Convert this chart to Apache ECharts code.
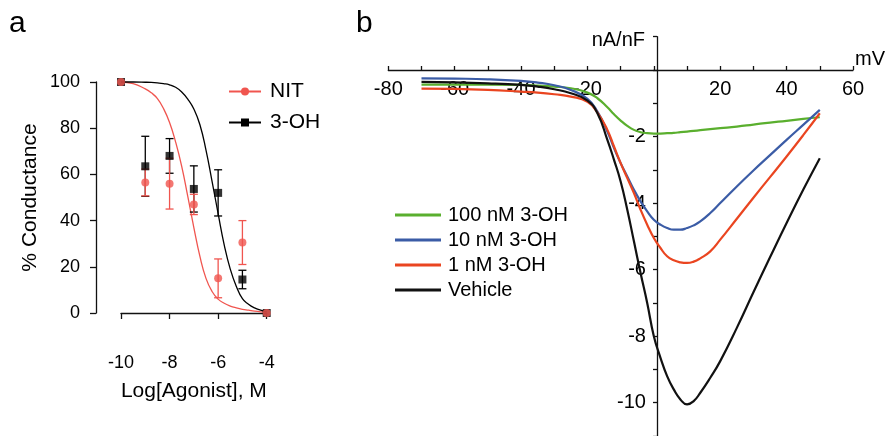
<!DOCTYPE html>
<html><head><meta charset="utf-8">
<script src="https://cdn.jsdelivr.net/npm/echarts@6/dist/echarts.min.js"></script>
<style>html,body{margin:0;padding:0;background:#fff}#c{width:888px;height:436px}</style>
</head><body><div id="c"></div>
<script>
const FONT = '"Liberation Sans", Arial, Helvetica, sans-serif';

// ---- Panel a: dose response ----
const doseLog = [-10, -9, -8, -7, -6, -5, -4];
const nitMean = [100, 56.5, 56, 47, 15, 30.5, 0];
const nitSem  = [0, 5.8, 11, 4.4, 8.4, 9.5, 0];
const ohMean  = [100, 63.5, 68, 53.7, 52, 14.5, 0];
const ohSem   = [0, 13, 7.5, 10, 10, 4, 0];

const fitX   = [-10, -9.5, -9, -8.75, -8.5, -8.25, -8, -7.75, -7.5, -7.25, -7, -6.75, -6.5, -6.25, -6, -5.75, -5.5, -5.25, -5, -4.75, -4.5, -4.25, -4];
const nitFit = [100, 99.3, 97, 95.3, 92.8, 88.5, 82.5, 74, 63.5, 50.5, 37, 24.5, 15, 9.3, 6, 4.2, 3.0, 2.2, 1.6, 1.2, 0.8, 0.5, 0.3];
const ohFit  = [100, 100, 99.9, 99.8, 99.6, 99.3, 98.8, 97.7, 95.7, 92.6, 88.3, 81.5, 70.5, 57, 43, 29.5, 19, 11.5, 6.2, 3.8, 2.2, 1.2, 0.5];

// ---- Panel b: current-voltage ----
const voltage = [-70, -60, -50, -40, -35, -30, -25, -20, -17, -14, -12, -10, -8, -6, -4, -2, 0, 2, 4, 6, 8, 10, 12, 14, 17, 20, 25, 30, 35, 40, 45, 50];
const oh100nM = [-0.44, -0.44, -0.44, -0.45, -0.47, -0.5, -0.55, -0.68, -0.85, -1.12, -1.33, -1.52, -1.68, -1.8, -1.87, -1.9, -1.91, -1.91, -1.9, -1.89, -1.87, -1.85, -1.83, -1.81, -1.78, -1.75, -1.7, -1.64, -1.58, -1.53, -1.47, -1.42];
const oh10nM  = [-0.25, -0.26, -0.28, -0.33, -0.38, -0.46, -0.6, -0.87, -1.25, -1.85, -2.35, -2.8, -3.2, -3.6, -3.95, -4.25, -4.5, -4.65, -4.75, -4.8, -4.8, -4.75, -4.67, -4.55, -4.3, -4.0, -3.5, -3.02, -2.56, -2.1, -1.65, -1.2];
const oh1nM   = [-0.56, -0.57, -0.6, -0.65, -0.68, -0.73, -0.8, -0.96, -1.28, -1.8, -2.3, -2.8, -3.25, -3.7, -4.2, -4.65, -5.05, -5.35, -5.6, -5.72, -5.78, -5.8, -5.76, -5.66, -5.45, -5.1, -4.47, -3.84, -3.22, -2.6, -1.96, -1.3];
const vehicle = [-0.36, -0.37, -0.4, -0.45, -0.5, -0.58, -0.7, -0.92, -1.3, -2.1, -2.7, -3.35, -4.2, -5.15, -6.1, -7.0, -8.0, -8.65, -9.2, -9.6, -9.9, -10.05, -9.95, -9.7, -9.25, -8.75, -7.75, -6.68, -5.63, -4.6, -3.6, -2.65];

const RED_A = '#f0554f';
const GREEN = '#5aaf2e';
const BLUE = '#3b5ca6';
const RED_B = '#ea4520';
const BLACK = '#111';
const AXC = '#111';

// panel b geometry (grid placement only)
const GB = { left: 388.3, top: 36.7, width: 470.2, height: 399.3 };
const XB = [-80, 60], YB = [-11, 1];
const xZeroOffset = -(GB.width * (0 - XB[0]) / (XB[1] - XB[0]));   // move y axis to x=0
const yZeroOffset = -(GB.height * (0 - YB[0]) / (YB[1] - YB[0]));  // move x axis to y=0

function zip(xs, ys) { return xs.map((x, i) => [x, ys[i]]); }
function errData(mean, sem) {
  const out = [];
  doseLog.forEach((d, i) => { if (sem[i] > 0) out.push([d, mean[i] - sem[i], mean[i] + sem[i]]); });
  return out;
}
function errRender(color) {
  return function (params, api) {
    const x = api.value(0), lo = api.value(1), hi = api.value(2);
    const a = api.coord([x, hi]), b = api.coord([x, lo]);
    const w = 4;
    const st = { stroke: color, lineWidth: 1.3 };
    return { type: 'group', children: [
      { type: 'line', shape: { x1: a[0], y1: a[1], x2: b[0], y2: b[1] }, style: st },
      { type: 'line', shape: { x1: a[0] - w, y1: a[1], x2: a[0] + w, y2: a[1] }, style: st },
      { type: 'line', shape: { x1: b[0] - w, y1: b[1], x2: b[0] + w, y2: b[1] }, style: st }
    ]};
  };
}

const axisLineA = { show: true, lineStyle: { color: AXC, width: 1.3 } };
const chart = echarts.init(document.getElementById('c'), null, { renderer: 'canvas' });
chart.setOption({
  backgroundColor: '#fff',
  animation: false,
  textStyle: { fontFamily: FONT, color: '#000' },
  title: [
    { text: 'a', left: 9, top: 9, padding: 0, textStyle: { fontSize: 30, fontWeight: 'normal', fontFamily: FONT, color: '#000' } },
    { text: 'b', left: 356, top: 9, padding: 0, textStyle: { fontSize: 30, fontWeight: 'normal', fontFamily: FONT, color: '#000' } }
  ],
  legend: [
    { data: ['NIT', '3-OH'], orient: 'vertical', left: 228, top: 81, padding: 0, itemWidth: 32, itemHeight: 10, itemGap: 10,
      textStyle: { fontSize: 21, fontFamily: FONT, color: '#000', padding: [0, 0, 0, 4] } },
    { data: ['100 nM 3-OH', '10 nM 3-OH', '1 nM 3-OH', 'Vehicle'], orient: 'vertical', left: 395, top: 205, padding: 0,
      icon: 'rect', itemWidth: 46, itemHeight: 3, itemGap: 5,
      textStyle: { fontSize: 20, fontFamily: FONT, color: '#000', padding: [0, 0, 0, 2] } }
  ],
  grid: [
    { left: 121, top: 82, width: 145.7, height: 231 },
    GB
  ],
  xAxis: [
    { gridIndex: 0, type: 'value', min: -10, max: -4, interval: 2, offset: 25,
      axisLine: axisLineA, axisTick: { show: true, length: 6, lineStyle: { color: AXC, width: 1.3 } },
      axisLabel: { fontSize: 18, margin: 16, color: '#000', fontFamily: FONT },
      splitLine: { show: false },
      name: 'Log[Agonist], M', nameLocation: 'middle', nameGap: 43,
      nameTextStyle: { fontSize: 21, color: '#000', fontFamily: FONT } },
    { gridIndex: 1, type: 'value', min: XB[0], max: XB[1], interval: 10, position: 'bottom', offset: yZeroOffset,
      axisLine: { show: true, onZero: false, lineStyle: { color: AXC, width: 1.3 } },
      axisTick: { show: true, inside: true, length: 4, lineStyle: { color: AXC, width: 1.3 } },
      axisLabel: { fontSize: 20, margin: 10, color: '#000', fontFamily: FONT,
        formatter: v => (v % 20 === 0 && v !== 0) ? String(v) : '' },
      splitLine: { show: false },
      name: 'mV', nameLocation: 'end', nameGap: 0,
      nameTextStyle: { fontSize: 20, color: '#000', fontFamily: FONT, align: 'left', verticalAlign: 'bottom', padding: [0, 0, 0, 2] } }
  ],
  yAxis: [
    { gridIndex: 0, type: 'value', min: 0, max: 100, interval: 20, offset: 25,
      axisLine: axisLineA, axisTick: { show: true, length: 6, lineStyle: { color: AXC, width: 1.3 } },
      axisLabel: { fontSize: 18, margin: 16, color: '#000', fontFamily: FONT },
      splitLine: { show: false },
      name: '% Conductance', nameLocation: 'middle', nameGap: 55,
      nameTextStyle: { fontSize: 21, color: '#000', fontFamily: FONT } },
    { gridIndex: 1, type: 'value', min: YB[0], max: YB[1], interval: 1, position: 'left', offset: xZeroOffset,
      axisLine: { show: true, onZero: false, lineStyle: { color: AXC, width: 1.3 } },
      axisTick: { show: true, length: 4, lineStyle: { color: AXC, width: 1.3 } },
      axisLabel: { fontSize: 20, margin: 11, color: '#000', fontFamily: FONT,
        formatter: v => (v < 0 && v % 2 === 0) ? String(v) : '' },
      splitLine: { show: false },
      name: 'nA/nF', nameLocation: 'end', nameGap: -4,
      nameTextStyle: { fontSize: 20, color: '#000', fontFamily: FONT, align: 'right', verticalAlign: 'middle', padding: [0, 12, 0, 0] } }
  ],
  series: [
    { name: 'NIT', type: 'line', xAxisIndex: 0, yAxisIndex: 0, data: zip(fitX, nitFit), smooth: true,
      symbol: 'circle', symbolSize: 8, showSymbol: false, clip: false,
      lineStyle: { color: RED_A, width: 1.3 }, itemStyle: { color: RED_A }, z: 2 },
    { name: '3-OH', type: 'line', xAxisIndex: 0, yAxisIndex: 0, data: zip(fitX, ohFit), smooth: true,
      symbol: 'rect', symbolSize: 8, showSymbol: false, clip: false,
      lineStyle: { color: '#000', width: 1.3 }, itemStyle: { color: '#000' }, z: 2 },
    { name: '3-OH', type: 'custom', xAxisIndex: 0, yAxisIndex: 0, data: errData(ohMean, ohSem),
      renderItem: errRender('#000'), encode: { x: 0, y: [1, 2] }, clip: false, z: 3 },
    { name: 'NIT', type: 'custom', xAxisIndex: 0, yAxisIndex: 0, data: errData(nitMean, nitSem),
      renderItem: errRender(RED_A), encode: { x: 0, y: [1, 2] }, clip: false, z: 3 },
    { name: '3-OH', type: 'scatter', xAxisIndex: 0, yAxisIndex: 0, data: zip(doseLog, ohMean),
      symbol: 'rect', symbolSize: 8, itemStyle: { color: '#000' }, clip: false, z: 4 },
    { name: 'NIT', type: 'scatter', xAxisIndex: 0, yAxisIndex: 0, data: zip(doseLog, nitMean),
      symbol: 'circle', symbolSize: 8, itemStyle: { color: RED_A }, clip: false, z: 5 },

    { name: '100 nM 3-OH', type: 'line', xAxisIndex: 1, yAxisIndex: 1, data: zip(voltage, oh100nM), smooth: true,
      showSymbol: false, symbol: 'none', clip: false, lineStyle: { color: GREEN, width: 2.2 }, itemStyle: { color: GREEN } },
    { name: '10 nM 3-OH', type: 'line', xAxisIndex: 1, yAxisIndex: 1, data: zip(voltage, oh10nM), smooth: true,
      showSymbol: false, symbol: 'none', clip: false, lineStyle: { color: BLUE, width: 2.2 }, itemStyle: { color: BLUE } },
    { name: '1 nM 3-OH', type: 'line', xAxisIndex: 1, yAxisIndex: 1, data: zip(voltage, oh1nM), smooth: true,
      showSymbol: false, symbol: 'none', clip: false, lineStyle: { color: RED_B, width: 2.2 }, itemStyle: { color: RED_B } },
    { name: 'Vehicle', type: 'line', xAxisIndex: 1, yAxisIndex: 1, data: zip(voltage, vehicle), smooth: true,
      showSymbol: false, symbol: 'none', clip: false, lineStyle: { color: BLACK, width: 2.2 }, itemStyle: { color: BLACK } }
  ]
});
</script>
</body></html>
